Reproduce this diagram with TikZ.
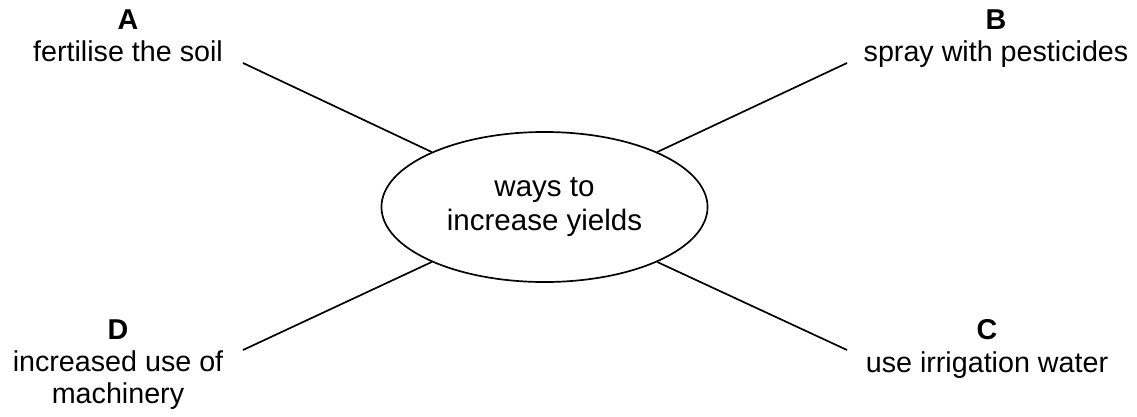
\documentclass[tikz,border=0pt]{standalone}
\usepackage{fontspec}
\setmainfont{Liberation Sans}
\usetikzlibrary{shapes.geometric}
\begin{document}
\begin{tikzpicture}[x=0.025cm, y=-0.025cm, line width=1.2pt,
  tag/.style={align=center, anchor=north, inner sep=0pt, font=\fontsize{20.4}{22.9}\selectfont},
  hub/.style={ellipse, draw, inner sep=0pt, minimum width=8.15cm, minimum height=3.75cm, align=center, font=\fontsize{21}{24.5}\selectfont}]
\useasboundingbox (0,0) rectangle (1137,416);
\node[hub] (hub) at (544.5,207){ways to\\increase yields};
\node[tag] (tagA) at (128,9){\textbf{A}\\fertilise the soil};
\node[tag] (tagB) at (996,9){\textbf{B}\\spray with pesticides};
\node[tag] (tagD) at (118,319){\textbf{D}\\increased use of\\machinery};
\node[tag] (tagC) at (987,319){\textbf{C}\\use irrigation water};
\coordinate (endA) at (243,63);
\coordinate (endB) at (847,63);
\coordinate (endD) at (243,350);
\coordinate (endC) at (847,350);
\draw[](endA) -- (hub.154);
\draw[](endB) -- (hub.26);
\draw[](endD) -- (hub.206);
\draw[](endC) -- (hub.334);

\end{tikzpicture}
\end{document}
